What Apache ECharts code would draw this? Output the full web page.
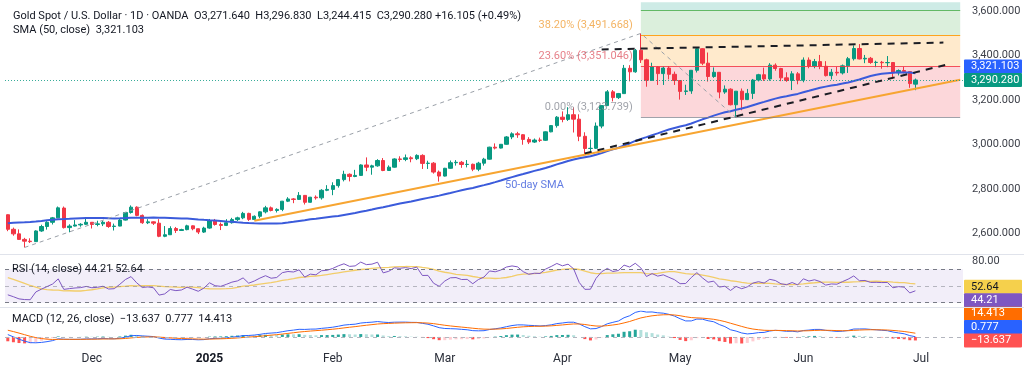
<!DOCTYPE html>
<html><head><meta charset="utf-8">
<script src="https://cdn.jsdelivr.net/npm/echarts@6/dist/echarts.min.js"></script>
<style>html,body{margin:0;padding:0;background:#fff}#c{width:1024px;height:373px}</style>
</head><body><div id="c"></div>
<script>
// ---------- DATA ----------
const dates = [
'2024-11-11','2024-11-12','2024-11-13','2024-11-14','2024-11-15','2024-11-18','2024-11-19','2024-11-20','2024-11-21','2024-11-22','2024-11-25','2024-11-26','2024-11-27','2024-11-28','2024-11-29',
'2024-12-02','2024-12-03','2024-12-04','2024-12-05','2024-12-06','2024-12-09','2024-12-10','2024-12-11','2024-12-12','2024-12-13','2024-12-16','2024-12-17','2024-12-18','2024-12-19','2024-12-20','2024-12-23','2024-12-24','2024-12-26','2024-12-27','2024-12-30','2024-12-31',
'2025-01-02','2025-01-03','2025-01-06','2025-01-07','2025-01-08','2025-01-09','2025-01-10','2025-01-13','2025-01-14','2025-01-15','2025-01-16','2025-01-17','2025-01-20','2025-01-21','2025-01-22','2025-01-23','2025-01-24','2025-01-27','2025-01-28','2025-01-29','2025-01-30','2025-01-31',
'2025-02-03','2025-02-04','2025-02-05','2025-02-06','2025-02-07','2025-02-10','2025-02-11','2025-02-12','2025-02-13','2025-02-14','2025-02-17','2025-02-18','2025-02-19','2025-02-20','2025-02-21','2025-02-24','2025-02-25','2025-02-26','2025-02-27','2025-02-28',
'2025-03-03','2025-03-04','2025-03-05','2025-03-06','2025-03-07','2025-03-10','2025-03-11','2025-03-12','2025-03-13','2025-03-14','2025-03-17','2025-03-18','2025-03-19','2025-03-20','2025-03-21','2025-03-24','2025-03-25','2025-03-26','2025-03-27','2025-03-28','2025-03-31',
'2025-04-01','2025-04-02','2025-04-03','2025-04-04','2025-04-07','2025-04-08','2025-04-09','2025-04-10','2025-04-11','2025-04-14','2025-04-15','2025-04-16','2025-04-17','2025-04-21','2025-04-22','2025-04-23','2025-04-24','2025-04-25','2025-04-28','2025-04-29','2025-04-30',
'2025-05-01','2025-05-02','2025-05-05','2025-05-06','2025-05-07','2025-05-08','2025-05-09','2025-05-12','2025-05-13','2025-05-14','2025-05-15','2025-05-16','2025-05-19','2025-05-20','2025-05-21','2025-05-22','2025-05-23','2025-05-26','2025-05-27','2025-05-28','2025-05-29','2025-05-30',
'2025-06-02','2025-06-03','2025-06-04','2025-06-05','2025-06-06','2025-06-09','2025-06-10','2025-06-11','2025-06-12','2025-06-13','2025-06-16','2025-06-17','2025-06-18','2025-06-19','2025-06-20','2025-06-23','2025-06-24','2025-06-25','2025-06-26','2025-06-27','2025-06-30'];
const blankDays = ['2025-07-01','2025-07-02','2025-07-03','2025-07-04','2025-07-07','2025-07-08','2025-07-09','2025-07-10'];

const opens = [2684,2618.5,2598,2573,2565,2563,2611,2631,2650,2670,2714,2626,2633,2638,2641,
2650,2640,2643,2650,2631,2633,2660,2694,2718,2681,2648,2652,2646,2587,2594,2622,2613,2617,2634,2621,2606,
2624,2658,2640,2636,2648,2662,2670,2690,2663,2677,2697,2715,2703,2708,2745,2755,2753,2771,2740,2763,2760,2794,
2798,2815,2842,2866,2856,2861,2908,2898,2904,2928,2883,2898,2935,2933,2940,2936,2951,2915,2916,2876,
2858,2893,2918,2920,2910,2911,2889,2916,2934,2988,2984,3001,3034,3048,3044,3023,3011,3020,3019,3057,3085,
3123,3113,3134,3114,3037,2982,2983,3083,3175,3237,3211,3229,3343,3327,3424,3381,3289,3349,3319,3344,3316,
3288,3239,3241,3334,3431,3366,3306,3325,3236,3249,3179,3240,3202,3230,3290,3314,3295,3357,3342,3300,3288,3318,
3289,3380,3353,3373,3352,3310,3325,3322,3354,3386,3432,3385,3388,3369,3370,3368,3369,3323,3333,3328,3271.64];
const highs = [2685.5,2626,2618,2580,2578,2614,2639,2655,2674,2721,2721,2641,2660,2646,2666,
2651,2657,2657,2656,2644,2668,2697,2726,2722,2685,2664,2654,2664,2633,2632,2629,2621,2639,2636,2622,2630,
2665,2665,2649,2664,2670,2675,2697,2693,2681,2699,2724,2721,2713,2746,2763,2759,2786,2772,2764,2771,2799,2817,
2830,2845,2882,2870,2886,2911,2942,2909,2934,2939,2906,2938,2947,2955,2947,2956,2956,2927,2921,2883,
2895,2928,2930,2926,2930,2914,2922,2940,2990,3005,3002,3038,3055,3057,3047,3033,3027,3031,3059,3087,3128,
3149,3168,3167,3136,3055,3022,3099,3176,3245,3245,3232,3358,3357,3430,3500,3386,3368,3353,3351,3353,3328,
3289,3269,3335,3437,3433,3414,3347,3326,3266,3253,3240,3252,3250,3295,3318,3346,3366,3365,3345,3325,3330,3326,
3392,3392,3385,3403,3375,3340,3349,3360,3394,3446,3452,3403,3394,3377,3376,3398,3370,3338,3350,3329,3296.83];
const lows = [2610,2589.7,2572,2536.7,2557,2562,2607,2617,2640,2669,2622,2605,2631,2630,2638,
2622,2632,2633,2625,2613,2632,2658,2689,2677,2643,2642,2638,2583,2583,2593,2602,2611,2614,2614,2597,2602,
2621,2635,2615,2633,2644,2656,2664,2656,2660,2668,2690,2699,2694,2700,2741,2736,2751,2730,2738,2752,2752,2790,
2772,2806,2834,2834,2853,2859,2880,2864,2900,2880,2881,2896,2922,2925,2920,2930,2890,2890,2869,2833,
2856,2891,2905,2895,2897,2880,2880,2905,2932,2978,2982,2999,3024,3030,2999,3002,3007,3011,3016,3055,3076,
3100,3106,3054,3015,2957,2970,2980,3073,3175,3194,3205,3229,3284,3323,3367,3260,3287,3268,3268,3293,3268,
3202,3223,3228,3324,3357,3283,3300,3208,3228,3176,3121,3154,3200,3205,3284,3286,3287,3332,3285,3282,3245,3271,
3280,3343,3343,3339,3306,3293,3310,3315,3322,3378,3383,3366,3363,3348,3341,3348,3295,3311,3320,3255,3244.415];
const closes = [2618.5,2598,2573,2565,2563,2611,2631,2650,2670,2715,2626,2633,2638,2641,2650,
2640,2643,2650,2631,2633,2660,2694,2718,2681,2648,2652,2646,2587,2594,2622,2613,2617,2634,2621,2606,2624,
2658,2640,2636,2648,2662,2670,2690,2663,2677,2697,2715,2703,2708,2745,2755,2753,2771,2740,2763,2760,2794,2798,
2815,2842,2866,2856,2861,2908,2898,2904,2928,2883,2898,2935,2933,2940,2936,2951,2915,2916,2876,2858,
2893,2918,2920,2910,2911,2889,2916,2934,2988,2984,3001,3034,3048,3044,3023,3011,3020,3019,3057,3085,3123,
3113,3134,3114,3037,2982,2983,3083,3175,3237,3211,3229,3343,3327,3424,3381,3289,3349,3319,3344,3316,3288,
3239,3241,3334,3431,3366,3306,3325,3236,3249,3179,3240,3202,3230,3290,3314,3295,3357,3342,3300,3288,3318,3289,
3380,3353,3373,3352,3310,3325,3322,3354,3386,3432,3385,3388,3369,3370,3368,3369,3323,3333,3328,3274.175,3290.28];
// closes before the visible window (Aug 1 - Nov 8, 2024), used only to warm up the indicators
const warmupCloses = [2446,2443,2409,2390,2383,2427,2431,2472,2465,2447,2456,2507,2503,2514,2512,2485,2512,2518,2524,2504,2521,2503,
2500,2493,2495,2516,2497,2506,2516,2512,2558,2577,2582,2570,2559,2587,2622,2629,2657,2657,2672,2658,2634,
2663,2657,2656,2653,2644,2622,2608,2630,2657,2649,2662,2674,2693,2721,2719,2748,2715,2736,2747,2743,2774,2788,2743,
2736,2736,2743,2659,2706,2685];

const monthTicks = {'2024-12-02':'Dec','2025-01-02':'2025','2025-02-03':'Feb','2025-03-03':'Mar','2025-04-01':'Apr','2025-05-01':'May','2025-06-02':'Jun','2025-07-01':'Jul'};
const priceTicks = [2600,2800,3000,3200,3400,3600];

const fibStart = '2025-04-22';
const fibPrices = [3123.739, 3351.046, 3491.668, 3605.319];
const fibNames = ['0.00%', '23.60%', '38.20%', '50.00%'];

const fibTrendPoints = [['2024-11-14', 2536.7], ['2025-04-22', 3500.0], ['2025-05-15', 3120.8]];
const supportAnchors = [['2025-01-14', 2657.0], ['2025-04-07', 2954.0]];
const risingAnchors  = [['2025-04-07', 2960.0], ['2025-05-15', 3127.0]];
const ceilingAnchors = [['2025-04-10', 3428.0], ['2025-06-16', 3451.0]];
const risingEnd = '2025-07-08', ceilingEnd = '2025-07-07';
const smaNote = ['2025-03-25', 2818, '50-day SMA'];

const readout = {sma: 3321.103, rsi: 44.21, rsiMa: 52.64, macd: 0.777, signal: 14.413, hist: -13.637};

// ---------- HELPERS ----------
const cats = dates.concat(blankDays);
const lastCat = cats[cats.length - 1];
const fmt = (v, d) => v.toLocaleString('en-US', {minimumFractionDigits: d, maximumFractionDigits: d}).replace('-', '\u2212');
function extend(anchors, toCat) {
  const [a, b] = anchors; const ia = cats.indexOf(a[0]), ib = cats.indexOf(b[0]);
  const s = (b[1] - a[1]) / (ib - ia);
  return [a, [toCat, a[1] + s * (cats.indexOf(toCat) - ia)]];
}
const all = warmupCloses.concat(closes), W = warmupCloses.length;
function sma(src, n) { return src.map((v, i) => { if (i < n - 1) return null; let s = 0, c = 0; for (let k = i - n + 1; k <= i; k++) { if (src[k] == null) return null; s += src[k]; c++; } return s / c; }); }
function rsi(src, n) { const out = src.map(() => null); let up = 0, dn = 0;
  for (let i = 1; i < src.length; i++) { const ch = src[i] - src[i - 1], u = Math.max(ch, 0), d = Math.max(-ch, 0);
    if (i <= n) { up += u; dn += d; if (i === n) { up /= n; dn /= n; out[i] = 100 - 100 / (1 + up / dn); } }
    else { up = (up * (n - 1) + u) / n; dn = (dn * (n - 1) + d) / n; out[i] = dn === 0 ? 100 : 100 - 100 / (1 + up / dn); } }
  return out; }
function ema(src, n) { const a = 2 / (n + 1); let e = null; return src.map(v => { e = e == null ? v : a * v + (1 - a) * e; return e; }); }
const smaAll = sma(all, 50), rsiAll = rsi(all, 14), rsiMaAll = sma(rsiAll, 14);
const e12 = ema(all, 12), e26 = ema(all, 26);
const macdAll = all.map((v, i) => e12[i] - e26[i]);
const sigAll = ema(macdAll, 9);
const histAll = macdAll.map((v, i) => v - sigAll[i]);
const vis = a => a.slice(W).map((v, i) => [dates[i], v]);
const histData = histAll.slice(W).map((h, i) => { const p = histAll[W + i - 1];
  const c = h >= 0 ? (p < h ? '#26a69a' : '#b2dfdb') : (p < h ? '#ffcdd2' : '#ff5252');
  return {value: [dates[i], h], itemStyle: {color: c}}; });

const FONT = 'Roboto, sans-serif';
const dashBlack = {color: '#1b1d24', width: 2, type: [7, 6]};
const lineSeries = (data, style, extra) => Object.assign({type: 'line', xAxisIndex: 0, yAxisIndex: 0, data, symbol: 'none', silent: true, lineStyle: style, z: 4, animation: false}, extra || {});

const fibColors = ['#787b86', '#f23645', '#ff9800', '#4caf50'];
const fibFills = ['rgba(242,54,69,0.2)', 'rgba(255,152,0,0.2)', 'rgba(76,175,80,0.2)', 'rgba(8,153,129,0.2)'];
const fibAreas = fibPrices.map((p, i) => [{coord: [fibStart, p], itemStyle: {color: fibFills[i]}}, {coord: [lastCat, i < 3 ? fibPrices[i + 1] : 3640]}]);
const fibLines = fibPrices.map((p, i) => [{coord: [fibStart, p], lineStyle: {color: fibColors[i], width: 1, type: 'solid', opacity: i === 0 ? 0.7 : 0.85}}, {coord: [lastCat, p]}]);

const option = {
  animation: false,
  backgroundColor: '#ffffff',
  grid: [
    {left: 5, right: 61, top: 2.28, height: 248.9},
    {left: 5, right: 61, top: 256.8, height: 50.1},
    {left: 5, right: 61, top: 311, height: 32.5}
  ],
  xAxis: [0, 1, 2].map(g => ({
    type: 'category', gridIndex: g, data: cats, boundaryGap: true,
    axisLine: {show: false}, axisTick: {show: false}, splitLine: {show: false},
    axisLabel: g < 2 ? {show: false} : {
      show: true, margin: 9, fontFamily: FONT, fontSize: 12, color: '#2a2e39',
      interval: (idx, val) => monthTicks[val] !== undefined,
      formatter: val => monthTicks[val] === '2025' ? '{b|2025}' : (monthTicks[val] || ''),
      rich: {b: {fontWeight: 'bold', fontSize: 12, fontFamily: FONT, color: '#131722'}}
    }
  })),
  yAxis: [
    {type: 'value', gridIndex: 0, position: 'right', min: 2520, max: 3640, interval: 40,
     axisLine: {show: false}, axisTick: {show: false}, splitLine: {show: false},
     axisLabel: {margin: 9, fontFamily: FONT, fontSize: 11, color: '#3c3f48', align: 'left',
       formatter: v => priceTicks.includes(v) ? fmt(v, 3) : ''}},
    {type: 'value', gridIndex: 1, position: 'right', min: 25, max: 85, interval: 5,
     axisLine: {show: false}, axisTick: {show: false}, splitLine: {show: false},
     axisLabel: {margin: 9, fontFamily: FONT, fontSize: 11, color: '#3c3f48', align: 'left',
       formatter: v => v === 80 ? '80.00' : ''}},
    {type: 'value', gridIndex: 2, position: 'right', min: 'dataMin', max: 'dataMax',
     axisLine: {show: false}, axisTick: {show: false}, splitLine: {show: false}, axisLabel: {show: false}}
  ],
  series: [
    // fib zones and levels
    {type: 'line', xAxisIndex: 0, yAxisIndex: 0, data: [], z: 1, silent: true,
     markArea: {silent: true, data: fibAreas},
     markLine: {silent: true, symbol: 'none', label: {show: false}, data: fibLines}},
    // candles
    {type: 'candlestick', xAxisIndex: 0, yAxisIndex: 0, z: 3, barWidth: '68%',
     data: dates.map((d, i) => [opens[i], closes[i], lows[i], highs[i]]),
     itemStyle: {color: '#089981', color0: '#f23645', borderColor: '#089981', borderColor0: '#f23645', borderColorDoji: '#089981', borderWidth: 1},
     markLine: {silent: true, symbol: 'none', label: {show: false},
       lineStyle: {color: '#089981', type: [1, 2], width: 1, opacity: 0.8},
       data: [{yAxis: closes[closes.length - 1]}]}},
    // SMA 50
    lineSeries(vis(smaAll), {color: '#3b5bdb', width: 2}),
    // fib trend (gray dashed)
    lineSeries(fibTrendPoints, {color: '#9aa0a8', width: 1, type: [4, 4]}),
    // orange support
    lineSeries(extend(supportAnchors, lastCat), {color: '#f7a531', width: 2}),
    // black dashed lines
    lineSeries(extend(risingAnchors, risingEnd), dashBlack, {z: 5}),
    lineSeries(extend(ceilingAnchors, ceilingEnd), dashBlack, {z: 5}),
    // fib labels
    {type: 'scatter', xAxisIndex: 0, yAxisIndex: 0, symbolSize: 0, silent: true, z: 6,
     data: fibPrices.slice(0, 3).map((p, i) => ({value: [fibStart, p],
       label: {show: true, position: 'left', distance: 8, offset: [0, -10], color: i === 0 ? '#8a8d96' : (i === 1 ? '#e0606b' : '#f0a03c'),
         fontFamily: FONT, fontSize: 11, formatter: () => fibNames[i] + ' (' + fmt(p, 3) + ')'}}))},
    // SMA note
    {type: 'scatter', xAxisIndex: 0, yAxisIndex: 0, symbolSize: 0, silent: true, z: 6,
     data: [{value: [smaNote[0], smaNote[1]], label: {show: true, position: 'inside', color: '#3b5bdb', fontFamily: FONT, fontSize: 11, formatter: () => smaNote[2]}}]},
    // RSI
    {type: 'line', xAxisIndex: 1, yAxisIndex: 1, data: vis(rsiMaAll), symbol: 'none', silent: true,
     lineStyle: {color: '#f2cd6a', width: 1.3}, z: 3,
     markArea: {silent: true, itemStyle: {color: 'rgba(126,87,194,0.1)'}, data: [[{yAxis: 70}, {yAxis: 30}]]},
     markLine: {silent: true, symbol: 'none', label: {show: false},
       data: [{yAxis: 70, lineStyle: {color: '#787b86', type: [4, 4], width: 1}},
              {yAxis: 50, lineStyle: {color: '#787b86', type: [4, 4], width: 1, opacity: 0.5}},
              {yAxis: 30, lineStyle: {color: '#787b86', type: [4, 4], width: 1}}]}},
    {type: 'line', xAxisIndex: 1, yAxisIndex: 1, data: vis(rsiAll), symbol: 'none', silent: true,
     lineStyle: {color: '#7e57c2', width: 1}, z: 4},
    // MACD
    {type: 'bar', xAxisIndex: 2, yAxisIndex: 2, data: histData, barWidth: 3, silent: true, z: 2,
     markLine: {silent: true, symbol: 'none', label: {show: false},
       lineStyle: {color: '#b2b5be', type: [4, 4], width: 1}, data: [{yAxis: 0}]}},
    {type: 'line', xAxisIndex: 2, yAxisIndex: 2, data: vis(macdAll), symbol: 'none', silent: true,
     lineStyle: {color: '#2962ff', width: 1}, z: 4},
    {type: 'line', xAxisIndex: 2, yAxisIndex: 2, data: vis(sigAll), symbol: 'none', silent: true,
     lineStyle: {color: '#ff6d00', width: 1}, z: 4}
  ]
};

const chart = echarts.init(document.getElementById('c'), null, {renderer: 'canvas', width: 1024, height: 373});
chart.setOption(option);

// ---------- TEXT OVERLAYS ----------
const n = closes.length - 1;
const chg = closes[n] - closes[n - 1], pct = chg / closes[n - 1] * 100;
const rich = {
  t: {fontFamily: FONT, fontSize: 11, fill: '#131722', color: '#131722'},
  v: {fontFamily: FONT, fontSize: 11, color: '#089981'},
  s: {fontFamily: FONT, fontSize: 11, color: '#2962ff'},
  p: {fontFamily: FONT, fontSize: 11, color: '#7e57c2'},
  y: {fontFamily: FONT, fontSize: 11, color: '#e3c03c'},
  r: {fontFamily: FONT, fontSize: 11, color: '#f7525f'},
  o: {fontFamily: FONT, fontSize: 11, color: '#f59a4a'}
};
const txt = (x, y, text) => ({type: 'text', z: 100, x, y, style: {text, rich, fontFamily: FONT, fontSize: 11, fill: '#131722', verticalAlign: 'middle'}});
const header1 = '{t|Gold Spot / U.S. Dollar \u00b7 1D \u00b7 OANDA}  {t|O}{v|' + fmt(opens[n], 3) + '}  {t|H}{v|' + fmt(highs[n], 3) +
  '}  {t|L}{v|' + fmt(lows[n], 3) + '}  {t|C}{v|' + fmt(closes[n], 3) + '} {v|' + (chg >= 0 ? '+' : '\u2212') + fmt(Math.abs(chg), 3) +
  ' (' + (pct >= 0 ? '+' : '\u2212') + fmt(Math.abs(pct), 2) + '%)}';
const header2 = '{t|SMA (50, close)}  {s|' + fmt(readout.sma, 3) + '}';
const rsiLeg = '{t|RSI (14, close)} {p|' + fmt(readout.rsi, 2) + '} {y|' + fmt(readout.rsiMa, 2) + '}';
const macdLeg = '{t|MACD (12, 26, close)}  {r|' + fmt(readout.hist, 3) + '}  {s|' + fmt(readout.macd, 3) + '}  {o|' + fmt(readout.signal, 3) + '}';

const py = (axis, v) => chart.convertToPixel({yAxisIndex: axis}, v);
function tag(y, text, bg, fg) {
  return {type: 'group', z: 100, children: [
    {type: 'rect', shape: {x: 964, y: y - 7, width: 58, height: 14, r: 1}, style: {fill: bg}},
    {type: 'text', style: {x: 971, y: y, text, fill: fg, fontFamily: FONT, fontSize: 11, verticalAlign: 'middle'}}
  ]};
}
const STEP = 13.4;
const yClose = py(0, closes[n]);
const yHist = py(2, readout.hist);
const yMa = py(1, readout.rsiMa) + 3;
const graphics = [
  {type: 'line', z: 50, shape: {x1: 0, y1: 254.5, x2: 1024, y2: 254.5}, style: {stroke: '#e0e3eb', lineWidth: 1}},
  {type: 'line', z: 50, shape: {x1: 0, y1: 307.5, x2: 1024, y2: 307.5}, style: {stroke: '#e0e3eb', lineWidth: 1}},
  txt(13, 16, header1), txt(13, 30, header2), txt(12, 269, rsiLeg), txt(12, 319, macdLeg),
  tag(yClose - STEP, fmt(readout.sma, 3), '#2962ff', '#ffffff'),
  tag(yClose, fmt(closes[n], 3), '#089981', '#ffffff'),
  tag(yMa, fmt(readout.rsiMa, 2), '#f5d04c', '#131722'),
  tag(yMa + STEP, fmt(readout.rsi, 2), '#7e57c2', '#ffffff'),
  tag(yHist - 2 * STEP, fmt(readout.signal, 3), '#ff6d00', '#ffffff'),
  tag(yHist - STEP, fmt(readout.macd, 3), '#2962ff', '#ffffff'),
  tag(yHist, fmt(readout.hist, 3), '#ff5252', '#ffffff')
];
chart.setOption({graphic: graphics});
</script></body></html>
